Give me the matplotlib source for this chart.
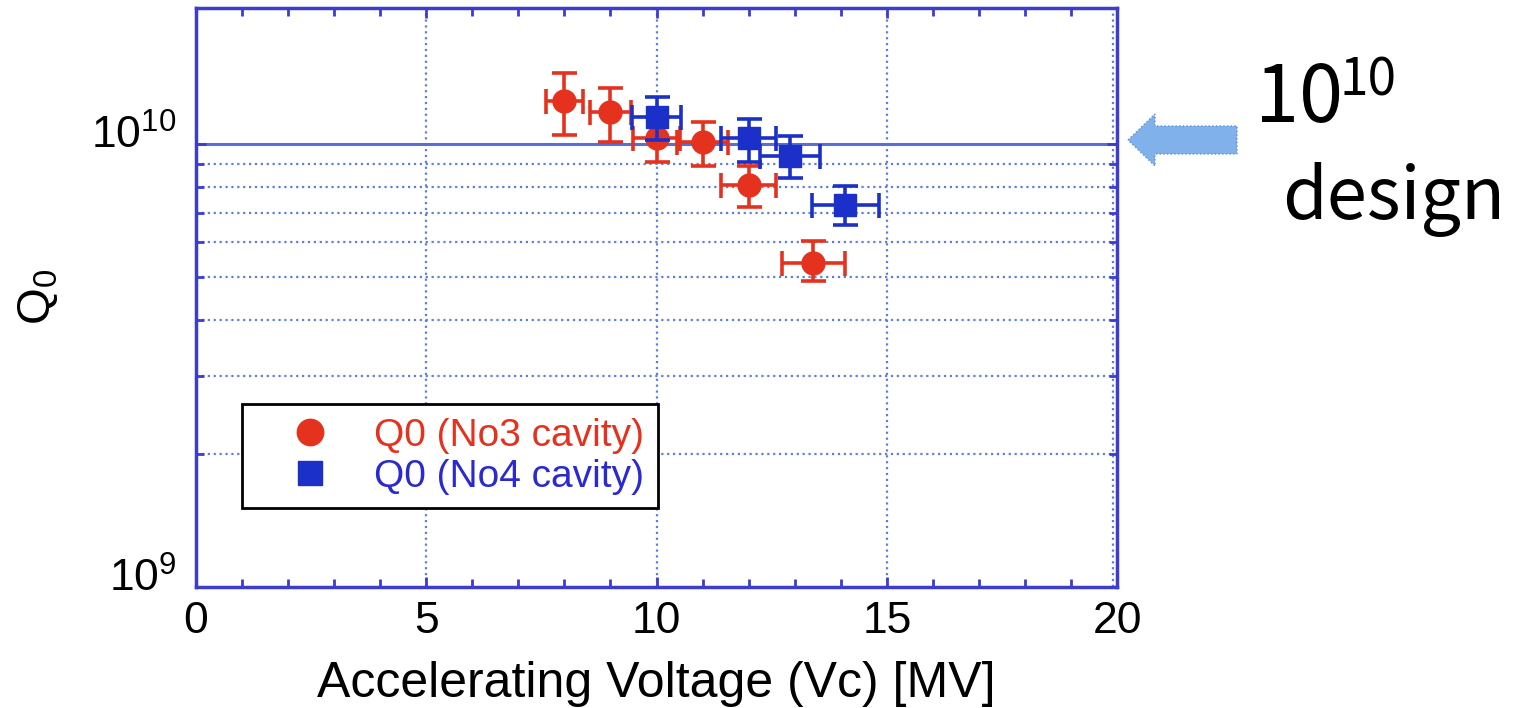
import matplotlib
matplotlib.use('Agg')
import matplotlib.pyplot as plt
import matplotlib.transforms as mtransforms
from matplotlib.patches import FancyArrow
from matplotlib.lines import Line2D
from matplotlib.ticker import FixedLocator, NullFormatter

plt.rcParams['font.family'] = ['Liberation Sans', 'DejaVu Sans']
plt.rcParams['mathtext.fontset'] = 'custom'
plt.rcParams['mathtext.rm'] = 'Liberation Sans'

# No3 cavity (red circles)
v3 = [8.0, 9.0, 10.0, 11.0, 12.0, 13.4]
q3 = [1.25e10, 1.18e10, 1.03e10, 1.01e10, 8.1e9, 5.4e9]
q3_lo = [1.05e10, 1.01e10, 9.1e9, 8.9e9, 7.2e9, 4.9e9]
q3_hi = [1.45e10, 1.34e10, 1.15e10, 1.12e10, 8.9e9, 6.05e9]
v3_err = [0.4, 0.45, 0.5, 0.55, 0.6, 0.68]

# No4 cavity (blue squares)
v4 = [10.0, 12.0, 12.9, 14.1]
q4 = [1.15e10, 1.03e10, 9.4e9, 7.3e9]
q4_lo = [1.02e10, 9.1e9, 8.4e9, 6.55e9]
q4_hi = [1.28e10, 1.14e10, 1.04e10, 8.05e9]
v4_err = [0.54, 0.6, 0.65, 0.72]

design_q = 1e10

red = '#e5321f'
blue = '#1a30c8'
axcol = '#3c3ccf'
gridcol = '#5f7fd8'

fig = plt.figure(figsize=(15.18, 7.08), dpi=100)
ax = fig.add_axes([0.129, 0.171, 0.607, 0.818])

ax.set_yscale('log')
ax.set_xlim(0, 20)
ax.set_ylim(1e9, 2.03e10)

# grid
ax.yaxis.set_major_locator(FixedLocator([1e9, 1e10]))
ax.yaxis.set_minor_locator(FixedLocator([k * 1e9 for k in range(2, 10)]))
ax.yaxis.set_minor_formatter(NullFormatter())
ax.set_yticklabels([r'$10^9$', r'$10^{10}$'])
ax.set_xticks([0, 5, 10, 15, 20])
ax.set_xticks(range(0, 21), minor=True)
ax.grid(which='minor', axis='y', linestyle=':', color=gridcol, linewidth=1.6)
for xv in [5, 10, 15, 19.9]:
    ax.axvline(xv, linestyle=':', color=gridcol, linewidth=1.6, zorder=1)
ax.axhline(design_q, color='#5a6fd6', linewidth=2.2, zorder=1)

def errs(vals, lo, hi):
    return [[v - l for v, l in zip(vals, lo)], [h - v for v, h in zip(vals, hi)]]

ax.errorbar(v3, q3, yerr=errs(q3, q3_lo, q3_hi), xerr=v3_err, fmt='o', color=red,
            markersize=16.5, elinewidth=2.6, capsize=9, capthick=2.6, zorder=3)
ax.errorbar(v4, q4, yerr=errs(q4, q4_lo, q4_hi), xerr=v4_err, fmt='s', color=blue,
            markersize=16.5, elinewidth=2.6, capsize=9, capthick=2.6, zorder=4)

for s in ax.spines.values():
    s.set_color(axcol)
    s.set_linewidth(2.5)
ax.tick_params(which='both', direction='in', color=axcol, right=True, top=True,
               width=2, labelsize=32, labelcolor='black')
ax.tick_params(which='major', length=7)
ax.tick_params(which='minor', length=6)
ax.tick_params(axis='x', pad=10)
ax.tick_params(axis='y', pad=14)

off = mtransforms.ScaledTranslation(0, 0.12, fig.dpi_scale_trans)
for lab in ax.get_yticklabels():
    lab.set_transform(lab.get_transform() + off)

ax.set_xlabel('Accelerating Voltage (Vc) [MV]', fontsize=36, labelpad=14)
ax.set_ylabel(r'Q$_0$', fontsize=34, labelpad=22)

handles = [Line2D([], [], marker='o', color=red, linestyle='none', markersize=19),
           Line2D([], [], marker='s', color=blue, linestyle='none', markersize=17.5)]
leg = ax.legend(handles, ['Q0 (No3 cavity)', 'Q0 (No4 cavity)'], loc='lower left',
                bbox_to_anchor=(0.05, 0.136), borderaxespad=0, fontsize=28,
                labelcolor=[red, '#2a2ad0'], fancybox=False, framealpha=1,
                edgecolor='black', handlelength=2.8, handletextpad=0.25,
                labelspacing=0.12, borderpad=0.35)
leg.get_frame().set_linewidth(2)

# annotation on the right
arrow = FancyArrow(1237 / 1518, 1 - 140 / 708, -(1237 - 1128) / 1518, 0,
                   width=28 / 708, head_width=52 / 708, head_length=27 / 1518,
                   length_includes_head=True, transform=fig.transFigure,
                   facecolor='#80b1ea', edgecolor='#5b8fd8', linewidth=1, linestyle=':')
fig.add_artist(arrow)
fig.text(1255 / 1518, 1 - 122 / 708, '10', fontsize=57, family=['Noto Sans CJK JP', 'DejaVu Sans'],
         va='baseline', ha='left')
fig.text(1340 / 1518, 1 - 96 / 708, '10', fontsize=37, family=['Noto Sans CJK JP', 'DejaVu Sans'],
         va='baseline', ha='left')
fig.text(1282 / 1518, 1 - 219 / 708, 'design', fontsize=52, family=['Noto Sans CJK JP', 'DejaVu Sans'],
         va='baseline', ha='left')

fig.savefig('out.png', dpi=100)
